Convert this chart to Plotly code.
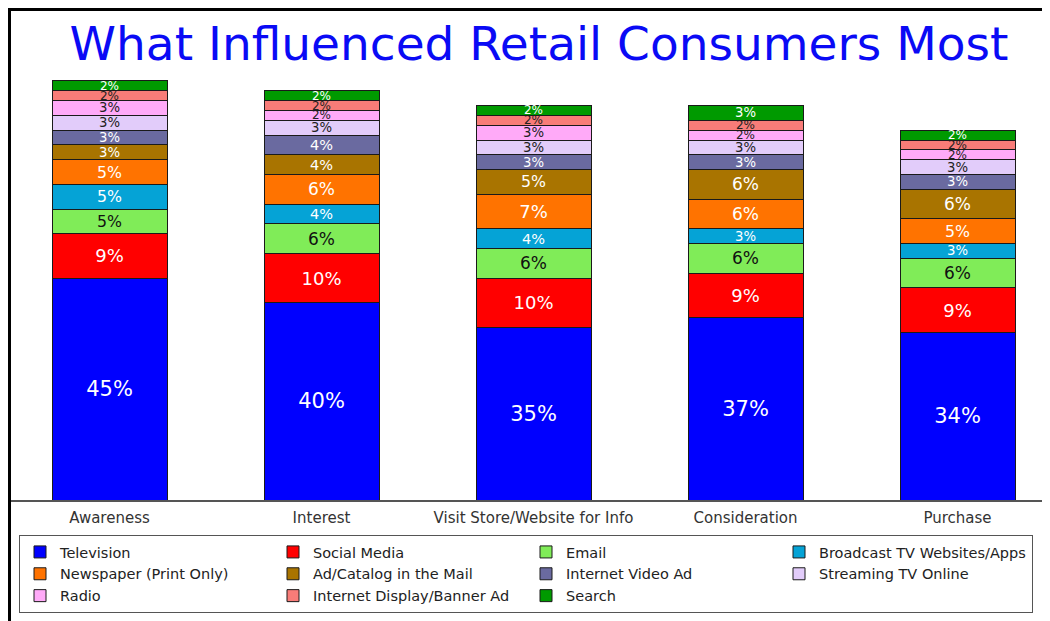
import plotly.graph_objects as go

stages = ["Awareness", "Interest", "Visit Store/Website for Info", "Consideration", "Purchase"]

television = [45, 40, 35, 37, 34]
social_media = [9, 10, 10, 9, 9]
email = [5, 6, 6, 6, 6]
broadcast_tv = [5, 4, 4, 3, 3]
newspaper = [5, 6, 7, 6, 5]
ad_catalog = [3, 4, 5, 6, 6]
internet_video = [3, 4, 3, 3, 3]
streaming_tv = [3, 3, 3, 3, 3]
radio = [3, 2, 3, 2, 2]
display_banner = [2, 2, 2, 2, 2]
search = [2, 2, 2, 3, 2]

series = [
    ("Television", television, "#0000FF", "white"),
    ("Social Media", social_media, "#FF0000", "white"),
    ("Email", email, "#80EC58", "#111111"),
    ("Broadcast TV Websites/Apps", broadcast_tv, "#05A3D6", "white"),
    ("Newspaper (Print Only)", newspaper, "#FF7300", "white"),
    ("Ad/Catalog in the Mail", ad_catalog, "#A97400", "white"),
    ("Internet Video Ad", internet_video, "#6A6AA0", "white"),
    ("Streaming TV Online", streaming_tv, "#E2CCFA", "#222222"),
    ("Radio", radio, "#FFAAF8", "#222222"),
    ("Internet Display/Banner Ad", display_banner, "#F87C78", "#222222"),
    ("Search", search, "#009A00", "white"),
]

# the page body has an 8px margin: convert reference page pixels to figure pixels
OFF = 8
W, H = 1050, 621
L = 2
T = 62
BOT = 500 - OFF            # baseline in figure pixels
B = H - BOT
PW = W - L
PH = BOT - T
SLOT = 212.0               # pixels between category centres


def fx(page_px):
    return (page_px - OFF - L) / PW


def fy(page_px):
    return (BOT - (page_px - OFF)) / PH


fig = go.Figure()
for name, vals, color, tcolor in series:
    sizes = [21 if v > 20 else min(18, 9.5 + 1.25 * v) for v in vals]
    fig.add_trace(go.Bar(
        name=name, x=stages, y=vals,
        text=[f"{v}%" for v in vals],
        textposition="inside", insidetextanchor="middle", constraintext="none",
        textfont=dict(color=tcolor, size=sizes, family="DejaVu Sans"),
        marker=dict(color=color, line=dict(color="#1a1a1a", width=1)),
        width=115 / SLOT,
        hoverinfo="skip",
    ))

c0 = 109.5 - OFF - L       # first category centre, plot pixels
c4 = 957.5 - OFF - L

fig.update_layout(
    barmode="stack",
    width=W, height=H,
    margin=dict(l=L, r=0, t=T, b=B, pad=0),
    paper_bgcolor="white", plot_bgcolor="white",
    title=dict(text="What Influenced Retail Consumers Most",
               x=(539 - OFF) / W, xanchor="center",
               y=1 - (44 - OFF) / H, yanchor="middle",
               font=dict(family="DejaVu Sans", size=47, color="#0A0AF5")),
    xaxis=dict(type="category", range=[-c0 / SLOT, 4 + (PW - c4) / SLOT],
               showline=True, linecolor="#555555", linewidth=1.5, showgrid=False,
               ticks="", ticklabelstandoff=3,
               tickfont=dict(family="DejaVu Sans", size=15, color="#333333")),
    yaxis=dict(range=[0, 87.2], visible=False, showgrid=False, zeroline=False),
    showlegend=True,
    legend=dict(orientation="h", x=fx(19), xanchor="left", y=fy(535), yanchor="top",
                bordercolor="#555555", borderwidth=1, bgcolor="white",
                font=dict(family="DejaVu Sans", size=14.5, color="#222222"),
                entrywidth=208, entrywidthmode="pixels", itemwidth=30,
                traceorder="normal", tracegroupgap=0),
    shapes=[dict(type="rect", xref="paper", yref="paper",
                 x0=fx(9.5), x1=fx(1080), y0=fy(700), y1=fy(9.5),
                 line=dict(color="black", width=3), fillcolor="rgba(0,0,0,0)", layer="above")],
    font=dict(family="DejaVu Sans"),
)

fig.write_html("out.html")
